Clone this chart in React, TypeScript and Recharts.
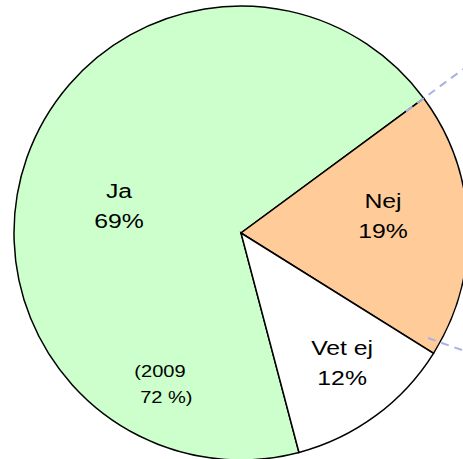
import { PieChart, Pie, Cell } from "recharts";

const categories = ["Ja", "Nej", "Vet ej"];
const shares = [69, 19, 12];
const sliceColors = ["#ccffcc", "#ffcc99", "#ffffff"];
const noteLines = ["(2009", " 72 %)"];

const W = 463;
const H = 459;
const CX = 241;
const CY = 233;
const R = 227;
const START = 284.8;
const RAD = Math.PI / 180;
const STRETCH = 1.18; // text in the original is a bit wide

// label placement tweaks (radius, angle shift from slice middle)
const labelTweak = [
    { r: 125, da: 6.9 },
    { r: 143, da: 4.6 },
    { r: 165, da: 1.4 },
];

const data = categories.map((name, i) => ({ name, value: shares[i] }));

const font = "'Liberation Sans', Arial, Helvetica, sans-serif";

function renderLabel(props: any) {
    const { cx, cy, midAngle, index } = props;
    const t = labelTweak[index];
    const a = (midAngle + t.da) * RAD;
    const x = cx + t.r * Math.cos(-a);
    const y = cy + t.r * Math.sin(-a);
    return (
        <text transform={`translate(${x},${y}) scale(${STRETCH},1)`} x={0} y={0} textAnchor="middle" fontFamily={font} fontSize={21} fill="#000">
            <tspan x={0} y={-8}>{data[index].name}</tspan>
            <tspan x={0} y={22}>{data[index].value}%</tspan>
        </text>
    );
}

function pt(angle: number, r: number) {
    return { x: CX + r * Math.cos(-angle * RAD), y: CY + r * Math.sin(-angle * RAD) };
}

export default function App() {
    const b1a = pt(36.4, 205);
    const b1b = pt(36.4, 285);
    const b2a = { x: CX + 187, y: CY + 105 };
    const b2b = { x: CX + 232, y: CY + 121 };
    return (
        <div style={{ position: "absolute", left: 0, top: 0, width: W, height: H, background: "#fff", overflow: "hidden" }}>
            <PieChart width={W} height={H} margin={{ top: 0, right: 0, bottom: 0, left: 0 }}>
                <Pie
                    data={data}
                    dataKey="value"
                    nameKey="name"
                    cx={CX}
                    cy={CY}
                    outerRadius={R}
                    startAngle={START}
                    endAngle={START - 360}
                    stroke="#000"
                    strokeWidth={1.5}
                    label={renderLabel}
                    labelLine={false}
                    isAnimationActive={false}
                >
                    {data.map((d, i) => (
                        <Cell key={d.name} fill={sliceColors[i]} />
                    ))}
                </Pie>
            </PieChart>
            <svg width={W} height={H} style={{ position: "absolute", left: 0, top: 0, pointerEvents: "none" }}>
                <line x1={b1a.x} y1={b1a.y} x2={b1b.x} y2={b1b.y} stroke="#a8b2e6" strokeWidth={2} strokeDasharray="8 6" />
                <line x1={b2a.x} y1={b2a.y} x2={b2b.x} y2={b2b.y} stroke="#a8b2e6" strokeWidth={2} strokeDasharray="8 6" />
                <g transform={`translate(160,0) scale(${STRETCH},1)`}>
                    <text x={0} y={377} textAnchor="middle" fontFamily={font} fontSize={17} fill="#000">{noteLines[0]}</text>
                    <text x={3} y={403} textAnchor="middle" fontFamily={font} fontSize={17} fill="#000" style={{ whiteSpace: "pre" }}>{noteLines[1]}</text>
                </g>
            </svg>
        </div>
    );
}
